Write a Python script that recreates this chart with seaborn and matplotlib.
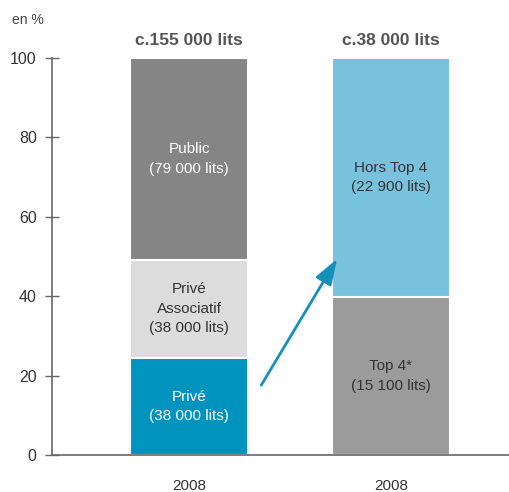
import matplotlib
matplotlib.use("Agg")
import matplotlib.pyplot as plt
import seaborn as sns
import numpy as np
import pandas as pd

# data: number of beds per segment
bars = ["ensemble", "prive"]
bar_labels = ["2008", "2008"]
totals_text = ["c.155 000 lits", "c.38 000 lits"]

seg_bar = ["ensemble", "ensemble", "ensemble", "prive", "prive"]
seg_names = ["Privé", "Privé\nAssociatif", "Public", "Top 4*", "Hors Top 4"]
seg_lits = [38000, 38000, 79000, 15100, 22900]
seg_text = ["(38 000 lits)", "(38 000 lits)", "(79 000 lits)", "(15 100 lits)", "(22 900 lits)"]
seg_colors = ["#0093be", "#dcdcdc", "#858585", "#9b9b9b", "#78c2de"]
seg_txtcol = ["white", "#333333", "white", "#333333", "#333333"]

sns.set_theme(style="white")
plt.rcParams["font.family"] = ["Liberation Sans Narrow", "Liberation Sans", "DejaVu Sans"]

df = pd.DataFrame({"bar": seg_bar, "name": seg_names, "lits": seg_lits,
                   "text": seg_text, "color": seg_colors, "tc": seg_txtcol})
df["pct"] = df["lits"] / df.groupby("bar")["lits"].transform("sum") * 100
df["top"] = df.groupby("bar")["pct"].cumsum()
df["bottom"] = df["top"] - df["pct"]

fig = plt.figure(figsize=(5.10, 4.92), dpi=100)
ax = fig.add_axes([0.102, 0.0752, 0.898, 0.807])

# stacked bars: draw cumulative heights, tallest first
for _, r in df.sort_values("top", ascending=False).iterrows():
    sns.barplot(x=[r["bar"]], y=[r["top"]], order=bars, color=r["color"],
                width=0.584, edgecolor="white", linewidth=1.5, saturation=1, ax=ax)

for _, r in df.iterrows():
    xi = bars.index(r["bar"])
    ax.text(xi, (r["top"] + r["bottom"]) / 2, r["name"] + "\n" + r["text"],
            ha="center", va="center", color=r["tc"], fontsize=11, linespacing=1.5)

for xi, t in enumerate(totals_text):
    ax.text(xi, 102.5, t, ha="center", va="bottom", fontsize=12.5,
            fontweight="bold", color="#555555", clip_on=False)

ax.annotate("", xy=(0.74, 50.0), xytext=(0.35, 17.0),
            arrowprops=dict(arrowstyle="-|>,head_length=1.3,head_width=0.45",
                            color="#1591b9", lw=2))

ax.set_xlim(-0.68, 1.59)
ax.set_ylim(0, 100)
ax.set_yticks([0, 20, 40, 60, 80, 100])
ax.set_xticks([0, 1])
ax.set_xticklabels(bar_labels)
ax.set_xlabel("")
ax.set_ylabel("")
ax.tick_params(axis="y", direction="inout", length=10, width=1, color="#666666",
               labelsize=11.5, labelcolor="#333333", pad=6, left=True)
ax.tick_params(axis="x", length=0, labelsize=11, labelcolor="#333333", pad=17)
for s in ["top", "right"]:
    ax.spines[s].set_visible(False)
for s in ["left", "bottom"]:
    ax.spines[s].set_color("#666666")
    ax.spines[s].set_linewidth(1.2)

fig.text(12 / 510, 1 - 20 / 492, "en %", fontsize=10, color="#444444", va="center")

fig.savefig("out.png", dpi=100)
